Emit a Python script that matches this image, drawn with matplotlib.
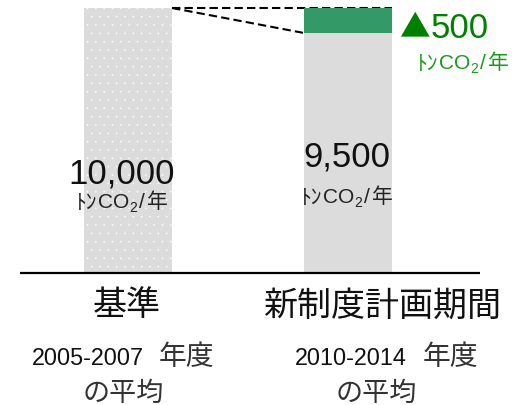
import matplotlib
matplotlib.use("Agg")
import matplotlib.pyplot as plt

# ---- data ----
categories = ["基準", "新制度計画期間"]
period_years = ["2005-2007", "2010-2014"]
period_suffix = "年度"
period_line2 = "の平均"
emissions = [10000, 9500]
reduction = 500
value_labels = ["10,000", "9,500"]
unit_parts = ["ﾄﾝ", "CO", "2", "/", "年"]

LAT = ["Liberation Sans", "DejaVu Sans"]
CJK = ["Noto Sans CJK JP", "DejaVu Sans"]
plt.rcParams["font.family"] = LAT
plt.rcParams["hatch.linewidth"] = 0.0

W, H = 525, 405
fig = plt.figure(figsize=(W / 100, H / 100), dpi=100)
base_px = 273
ax = fig.add_axes([0, (H - base_px) / H, 1, base_px / H])
ax.set_axis_off()

unit_px = 220.0
x0 = 128.0
ax.set_xlim(-x0 / unit_px, (W - x0) / unit_px)
ymin = 4700
ax.set_ylim(ymin, 10160)

xs = [0, 1]
bw = 88 / unit_px
gray = "#dcdcdc"
green = "#339966"

ax.bar(xs[0], emissions[0] - ymin, bottom=ymin, width=bw, color=gray,
       hatch="..", edgecolor="white", linewidth=0, zorder=2)
ax.bar(xs[1], emissions[1] - ymin, bottom=ymin, width=bw, color=gray, linewidth=0, zorder=2)
ax.bar(xs[1], reduction, bottom=emissions[1], width=bw, color=green, linewidth=0, zorder=2)

# dashed connector lines
r1 = xs[0] + bw / 2
l2 = xs[1] - bw / 2
r2 = xs[1] + bw / 2
ax.plot([r1, r2], [emissions[0], emissions[0]], ls=(0, (4, 2)), color="black",
        lw=1.5, clip_on=False, zorder=1)
ax.plot([r1, l2], [emissions[0], emissions[1]], ls=(0, (4, 2)), color="black",
        lw=1.5, clip_on=False, zorder=3)

# baseline
ax.plot([(20 - x0) / unit_px, (480 - x0) / unit_px], [ymin, ymin], color="black",
        lw=1.6, clip_on=False, solid_capstyle="butt")


def px(xp, yp):
    return xp / W, 1 - yp / H


renderer = fig.canvas.get_renderer()


def draw_unit(cx, base_y, color):
    # (text, family, size, dy, gap_after)
    spec = [
        (unit_parts[0], CJK, 15.5, 0, 0),
        (unit_parts[1], LAT, 15, 0, 0),
        (unit_parts[2], LAT, 10, 4, 2),
        (unit_parts[3], LAT, 15, 0, 2),
        (unit_parts[4], CJK, 15, 0, 0),
    ]
    texts = []
    widths = []
    for s, fam, fs, dy, gap in spec:
        t = fig.text(0, 0, s, family=fam, fontsize=fs, color=color,
                     ha="left", va="baseline")
        w = t.get_window_extent(renderer).width
        texts.append((t, dy))
        widths.append(w + gap)
    total = sum(widths)
    x = cx - total / 2
    for (t, dy), w in zip(texts, widths):
        t.set_position(px(x, base_y + dy))
        x += w


# value labels
for (cx, vy, uy), lab in zip([(122, 174, 208), (347, 157, 203)], value_labels):
    fig.text(*px(cx, vy), lab, ha="center", va="center", fontsize=25, color="#111111")
    draw_unit(cx, uy, "#222222")

# reduction label
fig.text(*px(414, 28), "▲", ha="center", va="center", fontsize=22,
         color="#008000", family=CJK)
fig.text(*px(431, 28), f"{reduction}", ha="left", va="center", fontsize=25,
         color="#008000")
draw_unit(463, 69, "#1a9a1a")

# category labels
for cx, lab in zip([127, 382], categories):
    fig.text(*px(cx, 306), lab, ha="center", va="center", fontsize=24.5,
             family=CJK, color="#111111")

# period labels
for (xl, xr, c2), yrs in zip([(32, 214, 123), (295, 478, 376)], period_years):
    fig.text(*px(xl, 365), yrs, ha="left", va="baseline", fontsize=16.8,
             family=LAT, color="#111111")
    fig.text(*px(xr, 357), period_suffix, ha="right", va="center", fontsize=20,
             family=CJK, color="#333333")
    fig.text(*px(c2, 393), period_line2, ha="center", va="center", fontsize=19.5,
             family=CJK, color="#333333")

fig.savefig("out.png", dpi=100)
